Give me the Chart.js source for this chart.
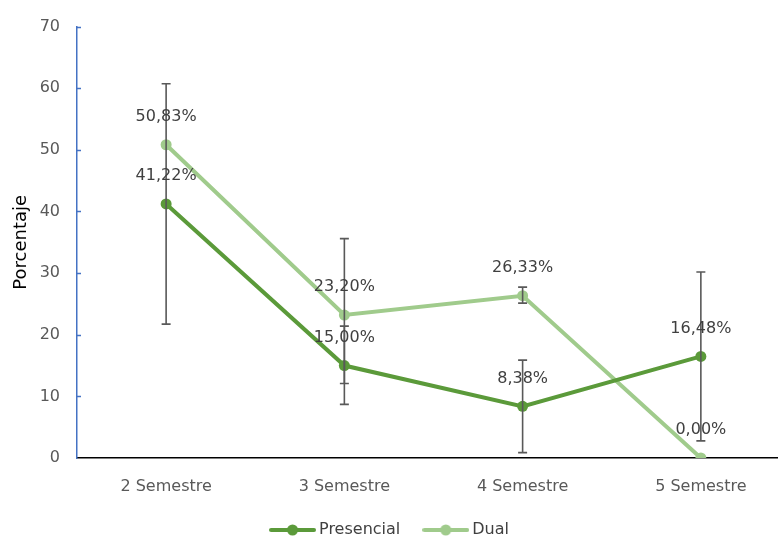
<!DOCTYPE html>
<html>
<head>
<meta charset="utf-8">
<script src="https://cdn.jsdelivr.net/npm/chart.js@4.4.1/dist/chart.umd.min.js"></script>
<style>
  html, body { margin: 0; padding: 0; background: #fff; }
  #wrap { width: 783px; height: 538px; }
</style>
</head>
<body>
<div id="wrap"><canvas id="chart"></canvas></div>
<script>
const categories = ["2 Semestre", "3 Semestre", "4 Semestre", "5 Semestre"];
const presencial = [41.22, 15.0, 8.38, 16.48];
const dual = [50.83, 23.2, 26.33, 0.0];
// error bar sizes (up / down)
const presencialErrUp = [19.5, 6.4, 7.5, 13.7];
const presencialErrDown = [19.5, 6.3, 7.5, 13.7];
const dualErrUp = [0, 12.4, 1.4, 0];
const dualErrDown = [0, 11.1, 1.2, 0];
const yMin = 0, yMax = 70, yStep = 10;

const FONT = "DejaVu Sans";
const DARK = "#5B9A3A";
const LIGHT = "#A0CB8C";

// legend marker: short line with a dot
function legendMarker(color) {
  const c = document.createElement("canvas");
  c.width = 47;
  c.height = 12;
  const g = c.getContext("2d");
  g.strokeStyle = color;
  g.lineWidth = 4;
  g.lineCap = "round";
  g.beginPath();
  g.moveTo(2, 6);
  g.lineTo(45, 6);
  g.stroke();
  g.fillStyle = color;
  g.beginPath();
  g.arc(23.5, 6, 5.5, 0, Math.PI * 2);
  g.fill();
  return c;
}

const errorBars = {
  id: "errorBars",
  afterDatasetsDraw(chart) {
    const ctx = chart.ctx;
    const y = chart.scales.y;
    ctx.save();
    ctx.strokeStyle = "#595959";
    ctx.lineWidth = 1.6;
    chart.data.datasets.forEach((ds, di) => {
      const meta = chart.getDatasetMeta(di);
      meta.data.forEach((pt, i) => {
        const v = ds.data[i].y;
        const up = ds.errUp[i], down = ds.errDown[i];
        if (!up && !down) return;
        const top = y.getPixelForValue(v + up);
        const bot = y.getPixelForValue(v - down);
        ctx.beginPath();
        ctx.moveTo(pt.x, top);
        ctx.lineTo(pt.x, bot);
        ctx.moveTo(pt.x - 4.5, top);
        ctx.lineTo(pt.x + 4.5, top);
        ctx.moveTo(pt.x - 4.5, bot);
        ctx.lineTo(pt.x + 4.5, bot);
        ctx.stroke();
      });
    });
    ctx.restore();
  }
};

const valueLabels = {
  id: "valueLabels",
  afterDraw(chart) {
    const ctx = chart.ctx;
    ctx.save();
    ctx.font = "16px '" + FONT + "'";
    ctx.fillStyle = "#404040";
    ctx.textAlign = "center";
    ctx.textBaseline = "middle";
    chart.data.datasets.forEach((ds, di) => {
      chart.getDatasetMeta(di).data.forEach((pt, i) => {
        const txt = ds.data[i].y.toFixed(2).replace(".", ",") + "%";
        ctx.fillText(txt, pt.x, pt.y - 28);
      });
    });
    ctx.restore();
  }
};

// inward tick marks on the value axis
const yTickMarks = {
  id: "yTickMarks",
  afterDraw(chart) {
    const ctx = chart.ctx;
    const y = chart.scales.y;
    const x0 = chart.chartArea.left;
    ctx.save();
    ctx.strokeStyle = "#4472C4";
    ctx.lineWidth = 1.5;
    ctx.beginPath();
    for (let v = yMin + yStep; v <= yMax; v += yStep) {
      const py = Math.round(y.getPixelForValue(v)) + 0.5;
      ctx.moveTo(x0, py);
      ctx.lineTo(x0 + 4, py);
    }
    ctx.stroke();
    ctx.restore();
  }
};

new Chart(document.getElementById("chart"), {
  type: "line",
  data: {
    datasets: [
      {
        label: "Presencial",
        data: categories.map((c, i) => ({ x: i, y: presencial[i] })),
        errUp: presencialErrUp,
        errDown: presencialErrDown,
        borderColor: DARK,
        backgroundColor: DARK,
        borderWidth: 4,
        pointRadius: 5.5,
        pointBorderWidth: 0,
        pointHoverRadius: 5.5,
        tension: 0
      },
      {
        label: "Dual",
        data: categories.map((c, i) => ({ x: i, y: dual[i] })),
        errUp: dualErrUp,
        errDown: dualErrDown,
        borderColor: LIGHT,
        backgroundColor: LIGHT,
        borderWidth: 4,
        pointRadius: 5.5,
        pointBorderWidth: 0,
        pointHoverRadius: 5.5,
        tension: 0
      }
    ]
  },
  options: {
    responsive: true,
    maintainAspectRatio: false,
    animation: false,
    layout: { padding: { top: 25, left: 0, right: 0, bottom: -10 } },
    scales: {
      x: {
        type: "linear",
        min: -0.5,
        max: 3.43,
        afterBuildTicks: (scale) => {
          scale.ticks = categories.map((c, i) => ({ value: i }));
        },
        afterFit: (scale) => {
          scale.height = 37;
          scale.paddingLeft = 0;
          scale.paddingRight = 0;
        },
        grid: { display: false, drawTicks: false },
        border: { display: true, color: "#000000", width: 1.5 },
        ticks: {
          autoSkip: false,
          maxRotation: 0,
          padding: 19,
          color: "#595959",
          font: { family: FONT, size: 16 },
          callback: (v) => categories[v]
        }
      },
      y: {
        min: yMin,
        max: yMax,
        afterFit: (scale) => {
          scale.width = 77;
        },
        grid: { display: false, drawTicks: false },
        border: { display: true, color: "#4472C4", width: 1.5 },
        ticks: {
          stepSize: yStep,
          padding: 17,
          color: "#595959",
          font: { family: FONT, size: 16 }
        },
        title: {
          display: true,
          text: "Porcentaje",
          color: "#000000",
          padding: { top: 11, bottom: 0 },
          font: { family: FONT, size: 18 }
        }
      }
    },
    plugins: {
      legend: {
        position: "bottom",
        labels: {
          color: "#404040",
          font: { family: FONT, size: 16 },
          usePointStyle: true,
          pointStyleWidth: 37,
          padding: 27,
          generateLabels: (chart) => {
            const items = Chart.defaults.plugins.legend.labels.generateLabels(chart);
            items.forEach((it) => {
              it.pointStyle = legendMarker(chart.data.datasets[it.datasetIndex].borderColor);
            });
            return items;
          }
        }
      },
      tooltip: { enabled: false }
    }
  },
  plugins: [errorBars, valueLabels, yTickMarks]
});
</script>
</body>
</html>
